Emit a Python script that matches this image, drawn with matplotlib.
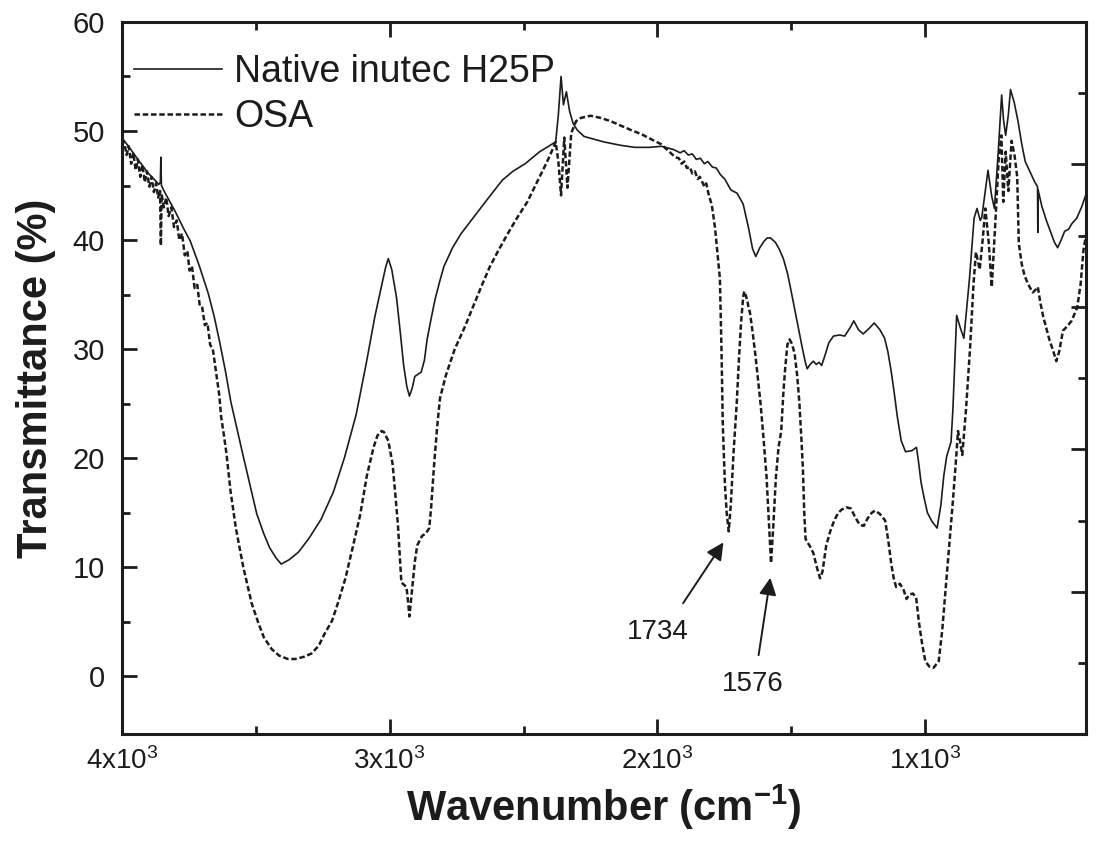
import matplotlib
matplotlib.use("Agg")
import matplotlib.pyplot as plt
from matplotlib.ticker import FixedLocator, FuncFormatter

plt.rcParams['font.family'] = ['Liberation Sans', 'DejaVu Sans']
plt.rcParams['mathtext.fontset'] = 'custom'
plt.rcParams['mathtext.rm'] = 'Liberation Sans'
plt.rcParams['mathtext.bf'] = 'Liberation Sans:bold'
plt.rcParams['mathtext.default'] = 'regular'

# FTIR spectra: wavenumber (cm-1) / transmittance (%)
wn_native = [4000, 3975, 3940, 3900, 3880, 3862, 3856, 3854, 3852, 3840, 3800, 3770, 3744, 3710,
             3677, 3655, 3634, 3613, 3593, 3570, 3548, 3520, 3496, 3470, 3448, 3425, 3405, 3375,
             3340, 3300, 3256, 3210, 3168, 3125, 3088, 3055, 3030, 3015, 3005, 2992, 2974, 2960,
             2948, 2936, 2926, 2916, 2906, 2894, 2882, 2870, 2860, 2845, 2830, 2812, 2797, 2765,
             2733, 2683, 2630, 2579, 2540, 2494, 2440, 2400, 2380, 2370, 2360, 2351, 2340, 2328,
             2315, 2300, 2274, 2200, 2140, 2085, 2030, 1985, 1940, 1915, 1901, 1885, 1870, 1855,
             1840, 1825, 1812, 1795, 1780, 1765, 1749, 1726, 1703, 1680, 1659, 1645, 1633, 1618,
             1602, 1590, 1578, 1560, 1546, 1530, 1514, 1500, 1484, 1470, 1460, 1448, 1441, 1430,
             1418, 1407, 1397, 1387, 1375, 1360, 1343, 1320, 1301, 1280, 1267, 1250, 1232, 1210,
             1191, 1170, 1152, 1140, 1127, 1115, 1105, 1090, 1074, 1050, 1033, 1025, 1016, 1004,
             992, 975, 956, 942, 931, 920, 904, 897, 883, 870, 856, 835, 818, 807, 795, 789,
             766, 752, 742, 728, 715, 708, 700, 690, 682, 668, 654, 640, 627, 610, 591, 581,
             580, 579, 565, 548, 530, 518, 506, 493, 480, 465, 453, 435, 417, 400]
t_native = [49.4, 48.6, 47.4, 46.1, 45.6, 45.1, 45.3, 47.6, 45.0, 44.4, 42.6, 41.1, 39.9, 37.6,
            35.1, 33.0, 30.6, 28.0, 25.2, 22.7, 20.35, 17.4, 14.9, 13.1, 11.8, 10.9, 10.3, 10.7,
            11.4, 12.7, 14.4, 16.9, 20.1, 24.0, 28.6, 33.0, 35.8, 37.5, 38.3, 37.3, 34.7, 31.5,
            28.6, 26.6, 25.7, 26.4, 27.5, 27.7, 27.9, 29.0, 30.9, 32.8, 34.6, 36.3, 37.6, 39.3,
            40.6, 42.2, 43.9, 45.5, 46.3, 47.0, 48.1, 48.7, 49.0, 51.5, 55.0, 52.4, 53.6, 51.8,
            50.7, 50.1, 49.5, 49.0, 48.7, 48.5, 48.5, 48.6, 48.3, 48.0, 48.2, 47.8, 47.9, 47.4,
            47.5, 47.0, 47.2, 46.7, 46.6, 46.0, 45.6, 44.6, 44.3, 43.3, 41.0, 39.2, 38.5, 39.3,
            39.9, 40.2, 40.2, 39.8, 39.2, 38.3, 36.9, 35.2, 33.2, 31.4, 30.2, 28.8, 28.2, 28.6,
            28.9, 28.6, 28.8, 28.5, 29.4, 30.6, 31.2, 31.3, 31.2, 32.0, 32.6, 31.8, 31.4, 31.9,
            32.4, 31.8, 31.0, 29.8, 27.9, 25.8, 23.9, 21.6, 20.6, 20.7, 21.0, 19.6, 17.8, 16.3,
            15.0, 14.2, 13.6, 15.7, 18.4, 20.2, 21.5, 24.5, 33.1, 32.0, 31.0, 36.5, 42.0, 42.9, 41.8, 42.1,
            46.4, 44.0, 42.9, 48.0, 53.3, 51.0, 49.6, 51.5, 53.8, 52.6, 50.9, 48.8, 47.2, 46.3, 45.3, 44.9,
            40.7, 44.6, 43.1, 41.8, 40.6, 39.8, 39.3, 40.0, 40.8, 41.0, 41.5, 42.0, 43.0, 44.2]

wn_osa = [4000, 3990, 3982, 3974, 3965, 3957, 3948, 3940, 3931, 3923, 3914, 3906, 3897, 3889,
          3880, 3872, 3864, 3857, 3854, 3851, 3843, 3834, 3825, 3815, 3805, 3795, 3785, 3775,
          3765, 3755, 3747, 3738, 3728, 3718, 3709, 3700, 3690, 3680, 3670, 3660, 3651, 3644,
          3636, 3629, 3618, 3609, 3594, 3574, 3547, 3515, 3490, 3470, 3440, 3412, 3380, 3352,
          3320, 3292, 3265, 3243, 3215, 3192, 3165, 3140, 3110, 3085, 3060, 3045, 3030, 3021,
          3005, 2989, 2978, 2969, 2962, 2956, 2946, 2937, 2931, 2926, 2918, 2906, 2897, 2885,
          2878, 2865, 2852, 2845, 2834, 2822, 2812, 2790, 2757, 2720, 2690, 2660, 2627, 2595,
          2561, 2525, 2486, 2450, 2410, 2390, 2380, 2370, 2360, 2348, 2336, 2322, 2304, 2286,
          2250, 2212, 2175, 2138, 2100, 2059, 2020, 1987, 1960, 1934, 1920, 1910, 1900, 1890,
          1879, 1870, 1860, 1850, 1842, 1836, 1825, 1818, 1809, 1797, 1785, 1775, 1767, 1761,
          1756, 1748, 1741, 1734, 1726, 1716, 1704, 1696, 1688, 1680, 1676, 1670, 1664, 1660,
          1655, 1645, 1635, 1625, 1615, 1604, 1593, 1584, 1576, 1568, 1558, 1548, 1538, 1530,
          1523, 1515, 1507, 1498, 1488, 1478, 1470, 1462, 1457, 1452, 1447, 1440, 1430, 1418,
          1405, 1393, 1384, 1370, 1355, 1340, 1325, 1312, 1295, 1278, 1262, 1245, 1230, 1215,
          1200, 1188, 1170, 1150, 1138, 1127, 1118, 1109, 1095, 1082, 1070, 1060, 1046, 1034,
          1024, 1012, 1000, 985, 969, 950, 937, 924, 910, 897, 885, 878, 870, 862,
          848, 833, 820, 811, 797, 786, 776, 764, 752, 740, 726, 716, 709, 700,
          690, 678, 667, 657, 651, 640, 629, 615, 599, 590, 580, 570, 560, 548,
          536, 522, 511, 500, 486, 470, 454, 433, 420, 410, 400]
t_osa = [49.3, 48.9, 47.8, 48.6, 47.0, 48.0, 46.4, 47.4, 45.8, 46.9, 45.3, 46.3, 44.9, 45.8,
         44.4, 45.2, 43.9, 44.6, 39.5, 44.2, 43.0, 43.9, 42.2, 43.0, 41.2, 41.8, 40.0, 40.6,
         38.6, 39.0, 37.2, 37.6, 35.6, 35.9, 34.0, 33.9, 32.2, 32.4, 30.4, 30.0, 28.4, 27.2,
         25.8, 23.8, 22.0, 20.4, 17.0, 13.6, 10.1, 6.7, 4.9, 3.6, 2.5, 1.9, 1.6, 1.6,
         1.8, 2.1, 2.8, 3.9, 5.1, 6.8, 9.0, 11.6, 14.8, 18.4, 21.0, 22.1, 22.5, 22.4,
         21.6, 19.5, 16.5, 13.9, 11.0, 8.6, 8.4, 8.2, 6.8, 5.5, 7.5, 10.5, 12.0, 12.6,
         12.9, 13.1, 13.6, 15.5, 19.4, 23.0, 25.5, 27.6, 30.0, 32.0, 33.8, 35.6, 37.5, 39.0,
         40.5, 42.0, 43.5, 45.3, 47.3, 48.4, 49.0, 47.2, 44.1, 49.4, 44.8, 49.8, 50.9, 51.2,
         51.4, 51.2, 50.9, 50.5, 50.1, 49.7, 49.2, 48.8, 48.2, 47.6, 47.5, 47.0, 47.2, 46.6,
         46.7, 46.1, 46.3, 45.6, 45.8, 45.5, 44.9, 45.2, 44.2, 43.2, 41.1, 38.6, 36.5, 30.0,
         23.0, 17.5, 14.8, 13.3, 15.8, 20.5, 25.1, 29.0, 32.4, 34.8, 35.3, 34.9, 34.4, 33.8,
         33.4, 31.6, 29.6, 27.3, 25.0, 21.8, 18.4, 14.2, 10.4, 13.6, 18.2, 21.0, 22.5, 26.0,
         28.3, 30.4, 30.9, 30.5, 29.6, 27.5, 25.0, 21.5, 19.0, 15.0, 12.6, 12.3, 11.9, 11.3,
         10.0, 9.0, 9.6, 12.0, 13.3, 14.3, 15.0, 15.3, 15.5, 15.4, 14.6, 13.9, 13.8, 14.5,
         15.0, 15.2, 14.9, 14.3, 12.4, 10.3, 9.0, 8.2, 8.5, 8.0, 7.1, 7.5, 7.6, 7.2,
         5.0, 3.0, 1.4, 0.9, 0.8, 1.4, 4.2, 8.1, 12.3, 16.1, 20.0, 22.5, 21.5, 20.3,
         24.5, 30.1, 36.0, 38.9, 37.3, 40.0, 42.9, 40.0, 35.7, 41.0, 47.5, 49.6, 43.5, 48.1,
         44.5, 49.1, 47.8, 45.8, 39.7, 37.8, 36.7, 35.9, 35.2, 35.4, 35.7, 34.2, 33.0, 31.9,
         30.8, 29.8, 28.9, 29.8, 31.7, 32.1, 32.6, 33.8, 36.0, 39.0, 40.5]

x_major = [4000, 3000, 2000, 1000]
x_minor = [3500, 2500, 1500]
ink = '#1c1c1c'

fig = plt.figure(figsize=(10.97, 8.43), dpi=100)
ax = fig.add_axes([0.111, 0.129, 0.879, 0.845])

ax.plot(wn_native, t_native, color=ink, lw=1.2, label='Native inutec H25P')
ax.plot(wn_osa, t_osa, color=ink, lw=1.8, ls=(0, (2.2, 1.1)), label='OSA')

ax.set_xlim(4000, 400)
ax.set_ylim(-5.3, 60)
ax.xaxis.set_major_locator(FixedLocator(x_major))
ax.xaxis.set_minor_locator(FixedLocator(x_minor))
ax.xaxis.set_major_formatter(FuncFormatter(lambda v, p: '%dx10$^3$' % round(v / 1000)))
ax.set_yticks(range(0, 61, 10))
ax.set_yticks(range(5, 60, 10), minor=True)

for s in ax.spines.values():
    s.set_linewidth(2.2)
    s.set_color(ink)
ax.tick_params(which='both', direction='in', top=True, right=False, color=ink, width=2,
               labelcolor=ink)
ax.tick_params(axis='x', labelsize=20, pad=9)
ax.tick_params(axis='y', labelsize=21, pad=12)
ax.tick_params(which='major', length=11)
ax.tick_params(which='minor', length=6)

# right-hand axis in the original carries its own tick spacing (no labels)
ax2 = ax.twinx()
ax2.set_ylim(0, 100)
ax2.set_yticks([20, 40, 60, 80])
ax2.set_yticks([10, 30, 50, 70, 90], minor=True)
ax2.tick_params(which='both', direction='in', labelright=False, color=ink, width=2)
ax2.tick_params(which='major', length=11)
ax2.tick_params(which='minor', length=6)
for s in ax2.spines.values():
    s.set_visible(False)

ax.set_ylabel('Transmittance (%)', fontsize=30, fontweight='bold', color=ink)
ax.set_xlabel(r'Wavenumber (cm$^{\mathbf{-1}}$)', fontsize=30, fontweight='bold', color=ink)
ax.yaxis.set_label_coords(-0.068, 0.5)
ax.xaxis.set_label_coords(0.5, -0.068)

# peak annotations
ax.annotate('', xy=(1748, 12.5), xytext=(1910, 6.5),
            arrowprops=dict(arrowstyle='-|>', color=ink, lw=1.4, mutation_scale=26))
ax.annotate('', xy=(1577, 9.3), xytext=(1624, 1.7),
            arrowprops=dict(arrowstyle='-|>', color=ink, lw=1.4, mutation_scale=26))
ax.text(1997, 4.1, '1734', fontsize=20, ha='center', va='center', color=ink)
ax.text(1646, -0.7, '1576', fontsize=20, ha='center', va='center', color=ink)

ax.legend(loc='upper left', bbox_to_anchor=(0.013, 0.955), frameon=False, fontsize=27,
          handlelength=2.35, handletextpad=0.32, labelspacing=0.25, borderpad=0,
          borderaxespad=0, labelcolor=ink)

fig.savefig('out.png', dpi=100)
